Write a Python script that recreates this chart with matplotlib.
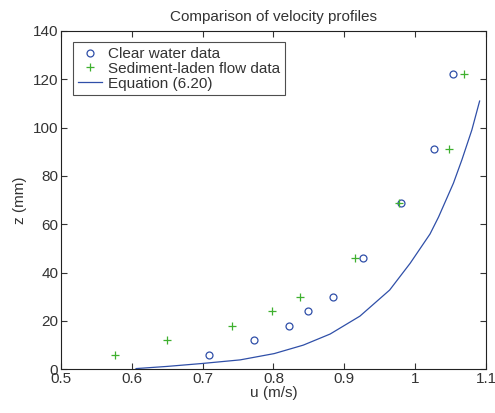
import matplotlib
matplotlib.use("Agg")
import matplotlib.pyplot as plt

plt.rcParams["font.family"] = ["Liberation Sans", "DejaVu Sans"]

# Clear water data
u_clear = [0.709, 0.772, 0.822, 0.849, 0.884, 0.927, 0.980, 1.027, 1.054]
z_clear = [6, 12, 18, 24, 30, 46, 69, 91, 122]

# Sediment-laden flow data
u_sed = [0.576, 0.650, 0.742, 0.798, 0.838, 0.915, 0.977, 1.048, 1.069]
z_sed = [6, 12, 18, 24, 30, 46, 69, 91, 122]

# Equation (6.20) curve
u_eq = [0.606, 0.650, 0.699, 0.753, 0.801, 0.842, 0.880, 0.922, 0.964,
        0.993, 1.021, 1.033, 1.054, 1.066, 1.080, 1.091]
z_eq = [0.3, 1.2, 2.4, 3.9, 6.5, 10.0, 14.6, 22.0, 32.8,
        43.9, 56.0, 63.0, 77.0, 86.7, 99.0, 111.0]

blue = "#2f4fa8"
green = "#3fb02f"
txt = "#333333"

fig = plt.figure(figsize=(4.95, 4.13), dpi=100)
ax = fig.add_axes([0.1232, 0.1058, 0.8586, 0.8192])

ax.plot(u_clear, z_clear, "o", mfc="none", mec=blue, ms=5, mew=0.9,
        label="Clear water data")
ax.plot(u_sed, z_sed, "+", color=green, ms=6, mew=0.9,
        label="Sediment-laden flow data")
ax.plot(u_eq, z_eq, "-", color=blue, lw=0.9, label="Equation (6.20)")

ax.set_xlim(0.5, 1.1)
ax.set_ylim(0, 140)
ax.set_xticks([0.5, 0.6, 0.7, 0.8, 0.9, 1.0, 1.1])
ax.set_xticklabels(["0.5", "0.6", "0.7", "0.8", "0.9", "1", "1.1"])
ax.set_yticks(range(0, 141, 20))
ax.tick_params(direction="in", top=True, right=True, length=4, width=0.8,
               labelsize=11, colors=txt, pad=2)
for s in ax.spines.values():
    s.set_linewidth(0.8)
    s.set_color("#222222")

ax.set_xlabel("u (m/s)", fontsize=11, labelpad=0, color=txt)
ax.set_ylabel("z (mm)", fontsize=11, labelpad=4, color=txt)
ax.set_title("Comparison of velocity profiles", fontsize=11, pad=7,
             color=txt)

leg = ax.legend(loc="upper left", bbox_to_anchor=(0.029, 0.966),
                fontsize=11, frameon=True, fancybox=False, borderpad=0.3,
                labelspacing=0.05, handlelength=1.6, handletextpad=0.4,
                borderaxespad=0)
leg.get_frame().set_edgecolor("#222222")
leg.get_frame().set_linewidth(0.8)
for t in leg.get_texts():
    t.set_color(txt)

fig.savefig("out.png", dpi=100)
